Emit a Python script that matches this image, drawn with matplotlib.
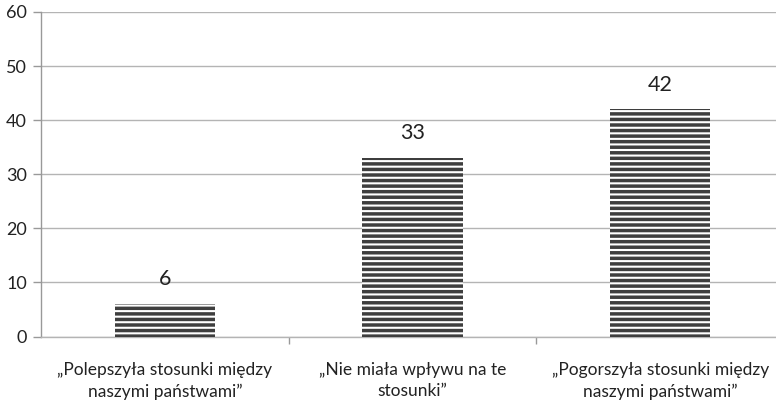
import numpy as np
import matplotlib.pyplot as plt
from matplotlib.ticker import FixedLocator

plt.rcParams['font.family'] = ['Lato', 'DejaVu Sans']
plt.rcParams['hatch.linewidth'] = 2.5
plt.rcParams['hatch.color'] = '#3e3e3e'

categories = ['\u201ePolepszy\u0142a stosunki mi\u0119dzy\nnaszymi pa\u0144stwami\u201d',
              '\u201eNie mia\u0142a wp\u0142ywu na te\nstosunki\u201d',
              '\u201ePogorszy\u0142a stosunki mi\u0119dzy\nnaszymi pa\u0144stwami\u201d']
values = [6, 33, 42]
y_ticks = [0, 10, 20, 30, 40, 50, 60]


def createPlot():
    fig = plt.figure(figsize=(7.76, 4.0), dpi=100)
    ax = fig.add_axes([41 / 776, 63.5 / 400, 743 / 776, 324.5 / 400])
    return fig, ax


def main():
    fig, ax = createPlot()
    x = np.arange(len(values))

    bars = ax.bar(x, values, width=0.404, color='white', edgecolor='#3e3e3e',
                  linewidth=0, hatch='---', zorder=3)

    for b, v in zip(bars, values):
        ax.annotate(str(v), (b.get_x() + b.get_width() / 2, v),
                    xytext=(0, 10.5), textcoords='offset points',
                    ha='center', va='bottom', fontsize=15.5, color='#222222')

    ax.set_xlim(-0.5, len(values) - 0.5)
    ax.set_ylim(0, 60)
    ax.set_yticks(y_ticks)
    ax.yaxis.grid(True, color='#b4b4b4', linewidth=1.0, zorder=0)
    ax.set_axisbelow(True)

    ax.set_xticks(x)
    ax.set_xticklabels(categories, fontsize=12.5, color='#222222', linespacing=1.45)
    ax.xaxis.set_minor_locator(FixedLocator([0.5, 1.5]))
    ax.tick_params(axis='x', which='major', length=0, pad=18)
    ax.tick_params(axis='x', which='minor', length=5, color='#999999', width=1)
    ax.tick_params(axis='y', length=6, color='#999999', width=1,
                   labelsize=13, labelcolor='#222222', pad=4)

    for s in ['top', 'right']:
        ax.spines[s].set_visible(False)
    ax.spines['left'].set_color('#999999')
    ax.spines['bottom'].set_color('#b4b4b4')
    ax.spines['left'].set_linewidth(1.0)
    ax.spines['bottom'].set_linewidth(1.0)

    fig.savefig('out.png', dpi=100)


if __name__ == "__main__":
    main()
